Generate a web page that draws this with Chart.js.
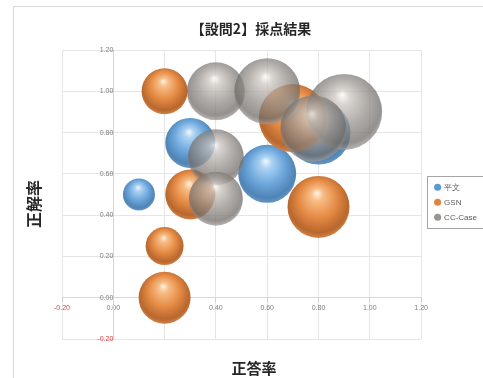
<!DOCTYPE html>
<html>
<head>
<meta charset="utf-8">
<script src="https://cdn.jsdelivr.net/npm/chart.js@4.4.0/dist/chart.umd.min.js"></script>
<style>
  html, body { margin: 0; padding: 0; background: #fff; }
  #wrap { width: 483px; height: 378px; }
</style>
</head>
<body>
<div id="wrap"><canvas id="bubbleChart"></canvas></div>
<script>
// data: x = 正答率, y = 正解率, r = bubble radius (px)
const chartTitle = "【設問2】採点結果";
const xTitle = "正答率";
const yTitle = "正解率";
const seriesNames = ["平文", "GSN", "CC-Case"];
const plainX = [0.10, 0.30, 0.60, 0.80];
const plainY = [0.50, 0.75, 0.60, 0.80];
const plainR = [16, 25, 29, 32];
const gsnX = [0.20, 0.30, 0.20, 0.20, 0.80, 0.70];
const gsnY = [1.00, 0.50, 0.25, 0.00, 0.44, 0.87];
const gsnR = [23, 25, 19, 26, 31, 34];
const ccX = [0.40, 0.60, 0.90, 0.40, 0.40, 0.78];
const ccY = [1.00, 1.00, 0.90, 0.68, 0.48, 0.82];
const ccR = [29, 33, 38, 28, 27, 33];
const axisTicks = [-0.2, 0, 0.2, 0.4, 0.6, 0.8, 1.0, 1.2];

// sphere shading: [highlight, light, base, dark, rim]
const shades = [
    ["#f4f9fe", "#acd3f3", "#6ea8dc", "#4f84b6", "#6595c3"],
    ["#fff4e6", "#f8bd86", "#e58b45", "#b8672d", "#cf8247"],
    ["rgba(252,250,248,0.75)", "rgba(204,198,193,0.75)", "rgba(152,146,141,0.75)", "rgba(112,108,105,0.75)", "rgba(158,154,150,0.75)"]
];
const legendColors = ["#5e9ad2", "#e2843d", "#9a9591"];

function toPoints(xs, ys, rs) {
    return xs.map((x, i) => ({ x: x, y: ys[i], r: rs[i] }));
}

function sphereFill(si) {
    return function (ctx) {
        const chart = ctx.chart;
        const p = ctx.raw;
        if (!p || !chart.chartArea) return shades[si][2];
        const cx = chart.scales.x.getPixelForValue(p.x);
        const cy = chart.scales.y.getPixelForValue(p.y);
        const r = p.r;
        const g = chart.ctx.createRadialGradient(cx - r * 0.05, cy - r * 0.45, 0, cx, cy - r * 0.1, r * 1.1);
        const s = shades[si];
        g.addColorStop(0, s[0]);
        g.addColorStop(0.18, s[1]);
        g.addColorStop(0.55, s[2]);
        g.addColorStop(0.88, s[3]);
        g.addColorStop(1, s[4]);
        return g;
    };
}

const frameLines = {
    id: "frameLines",
    afterLayout(chart) {
        // nudge the legend a little to the right, as in the original
        chart.legend.left += 7;
        chart.legend.right += 7;
    },
    beforeDraw(chart) {
        const c = chart.ctx;
        c.save();
        c.fillStyle = "#fff";
        c.fillRect(0, 0, chart.width, chart.height);
        c.strokeStyle = "#d9d9d9";
        c.lineWidth = 1;
        c.beginPath();
        c.moveTo(13.5, chart.height);
        c.lineTo(13.5, 6.5);
        c.lineTo(chart.width, 6.5);
        c.stroke();
        c.restore();
    },
    afterDraw(chart) {
        const c = chart.ctx;
        c.save();
        c.fillStyle = "#262626";
        c.textAlign = "center";
        c.textBaseline = "middle";
        // chart title and x axis title
        c.font = "bold 14px 'Noto Sans CJK JP'";
        c.fillText(chartTitle, 251, 29);
        c.font = "bold 15px 'Noto Sans CJK JP'";
        c.fillText(xTitle, 254, 368);
        // y axis title
        c.translate(34, 204);
        c.rotate(-Math.PI / 2);
        c.font = "bold 16px 'Noto Sans CJK JP'";
        c.fillText(yTitle, 0, 0);
        c.restore();
        // legend frame
        const boxes = chart.legend.legendHitBoxes;
        if (boxes && boxes.length) {
            const top = boxes[0].top - 7;
            const bottom = boxes[boxes.length - 1].top + boxes[boxes.length - 1].height + 7;
            c.save();
            c.strokeStyle = "#a6a6a6";
            c.lineWidth = 1;
            c.strokeRect(427.5, Math.round(top) + 0.5, 80, Math.round(bottom - top));
            c.restore();
        }
    }
};

const ctx = document.getElementById("bubbleChart").getContext("2d");
new Chart(ctx, {
    type: "bubble",
    data: {
        datasets: [
            { label: seriesNames[0], data: toPoints(plainX, plainY, plainR), backgroundColor: sphereFill(0), borderWidth: 0, order: 3 },
            { label: seriesNames[1], data: toPoints(gsnX, gsnY, gsnR), backgroundColor: sphereFill(1), borderWidth: 0, order: 2 },
            { label: seriesNames[2], data: toPoints(ccX, ccY, ccR), backgroundColor: sphereFill(2), borderWidth: 0, order: 1 }
        ]
    },
    options: {
        responsive: true,
        maintainAspectRatio: false,
        animation: false,
        events: [],
        layout: { padding: { left: 62, right: 3, top: 50, bottom: 39 } },
        plugins: {
            title: { display: false },
            legend: {
                position: "right",
                title: {
                    display: true,
                    text: " ",
                    font: { size: 8 },
                    padding: 3
                },
                labels: {
                    usePointStyle: true,
                    pointStyle: "circle",
                    boxWidth: 5,
                    boxHeight: 5,
                    padding: 7,
                    color: "#595959",
                    font: { family: "'Liberation Sans'", size: 8 },
                    generateLabels(chart) {
                        return chart.data.datasets.map((ds, i) => ({
                            text: ds.label,
                            fillStyle: legendColors[i],
                            strokeStyle: legendColors[i],
                            lineWidth: 0,
                            pointStyle: "circle",
                            datasetIndex: i,
                            fontColor: "#595959"
                        }));
                    }
                }
            },
            tooltip: { enabled: false }
        },
        scales: {
            x: {
                type: "linear",
                position: { y: 0 },
                min: -0.2,
                max: 1.2,
                afterBuildTicks: (scale) => { scale.ticks = axisTicks.map(v => ({ value: v })); },
                ticks: {
                    callback: (v) => Number(v).toFixed(2),
                    color: (c) => c.tick.value < 0 ? "#e04040" : "#7f7f7f",
                    font: { family: "'Liberation Sans'", size: 7 },
                    padding: 2,
                    maxRotation: 0
                },
                grid: { color: "#e6e6e6", tickLength: 4, tickColor: "#d0d0d0" },
                border: { color: "#d6d6d6" }
            },
            y: {
                type: "linear",
                position: { x: 0 },
                min: -0.2,
                max: 1.2,
                afterBuildTicks: (scale) => { scale.ticks = axisTicks.map(v => ({ value: v })); },
                ticks: {
                    callback: (v) => Number(v).toFixed(2),
                    color: (c) => c.tick.value < 0 ? "#e04040" : "#7f7f7f",
                    font: { family: "'Liberation Sans'", size: 7 },
                    padding: 2
                },
                grid: { color: "#e6e6e6", tickLength: 4, tickColor: "#d0d0d0" },
                border: { color: "#d6d6d6" }
            }
        }
    },
    plugins: [frameLines]
});
</script>
</body>
</html>
